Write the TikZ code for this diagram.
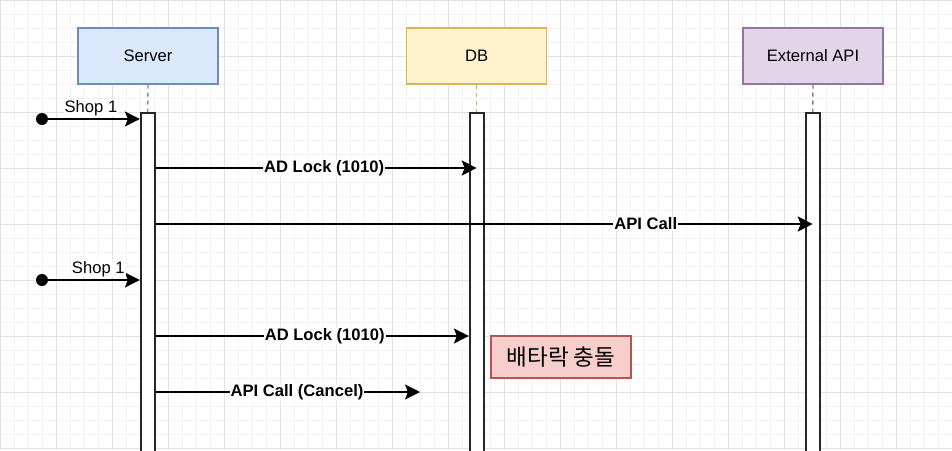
\documentclass[tikz,border=0pt]{standalone}
\usepackage{fontspec}
\setmainfont{Liberation Sans}
\newfontfamily\kofont{Noto Sans CJK KR}
\usetikzlibrary{arrows.meta,positioning}
\definecolor{srvfill}{HTML}{DAE8FC}
\definecolor{srvline}{HTML}{6C8EBF}
\definecolor{dbfill}{HTML}{FFF2CC}
\definecolor{dbline}{HTML}{D6B656}
\definecolor{apifill}{HTML}{E1D5E7}
\definecolor{apiline}{HTML}{9673A6}
\definecolor{clashfill}{HTML}{F8CECC}
\definecolor{clashline}{HTML}{B85450}
\definecolor{gridminor}{HTML}{F3F3F3}
\definecolor{gridmajor}{HTML}{E2E2E2}

\tikzset{
  actor/.style={draw, line width=1.4pt, minimum width=140pt, minimum height=56pt,
    inner sep=0pt, font=\fontsize{16.6}{20}\selectfont},
  bar/.style={draw=black!85, fill=white, line width=1.6pt, minimum width=14pt,
    minimum height=360pt, anchor=north, inner sep=0pt},
  life/.style={line width=1.4pt, dash pattern=on 4pt off 4pt},
  msg/.style={line width=1.5pt, -{Stealth[length=15pt,width=15pt,inset=3pt]}},
  lbl/.style={fill=white, inner sep=1pt, font=\fontsize{16.6}{20}\selectfont\bfseries},
  shoplbl/.style={fill=white, inner sep=1pt, anchor=base, yshift=7pt,
    font=\fontsize{16.6}{20}\selectfont},
  src/.style={circle, fill=black, inner sep=0pt, minimum size=12pt}
}

\begin{document}
\begin{tikzpicture}[x=1pt,y=-1pt]
  \clip (0,0) rectangle (952,450);

  % Background grid
  \fill[white] (0,0) rectangle (952,450);
  \draw[gridminor, line width=0.8pt, step=14pt] (0,450) grid (952,0);
  \draw[gridmajor, line width=0.8pt, step=56pt] (0,450) grid (952,0);

  % Participants
  \node[actor, fill=srvfill, draw=srvline] (server) at (148,56) {Server};
  \node[actor, fill=dbfill, draw=dbline] (db) at (476.7,56) {DB};
  \node[actor, fill=apifill, draw=apiline] (api) at (813,56) {External API};

  % Lifelines and activation bars
  \node[bar] (srvbar) at (147.7,112) {};
  \node[bar] (dbbar) at (476.7,112) {};
  \node[bar] (apibar) at (812.7,112) {};
  \draw[life, srvline] (server.south) -- (srvbar.north);
  \draw[life, dbline] (db.south) -- (dbbar.north);
  \draw[life, apiline] (api.south) -- (apibar.north);

  % First request
  \coordinate (shopA) at (42,119);
  \node[src] (dotA) at (shopA) {};
  \draw[msg] (dotA.center) -- node[shoplbl] {Shop 1} (srvbar.west |- shopA);

  \coordinate (lockA) at (0,168);
  \draw[msg] (srvbar.east |- lockA) -- node[lbl, pos=0.525] {AD Lock (1010)} (dbbar |- lockA);

  \coordinate (callA) at (0,224);
  \draw[msg] (srvbar.east |- callA) -- node[lbl, pos=0.746] {API Call} (apibar |- callA);

  % Second request
  \coordinate (shopB) at (42,280);
  \node[src] (dotB) at (shopB) {};
  \draw[msg] (dotB.center) -- node[shoplbl, pos=0.575] {Shop 1} (srvbar.west |- shopB);

  \coordinate (lockB) at (0,336);
  \draw[msg] (srvbar.east |- lockB) -- node[lbl, pos=0.54] {AD Lock (1010)} (dbbar.west |- lockB);

  \node[draw=clashline, fill=clashfill, line width=1.4pt, minimum width=140pt,
    minimum height=42pt, inner sep=0pt, font=\kofont\fontsize{22.5}{26}\selectfont]
    (clash) at (561,357) {배타락 충돌};

  \coordinate (cancelEnd) at (420,392);
  \draw[msg] (srvbar.east |- cancelEnd) -- node[lbl, pos=0.535] {API Call (Cancel)} (cancelEnd);
\end{tikzpicture}
\end{document}
